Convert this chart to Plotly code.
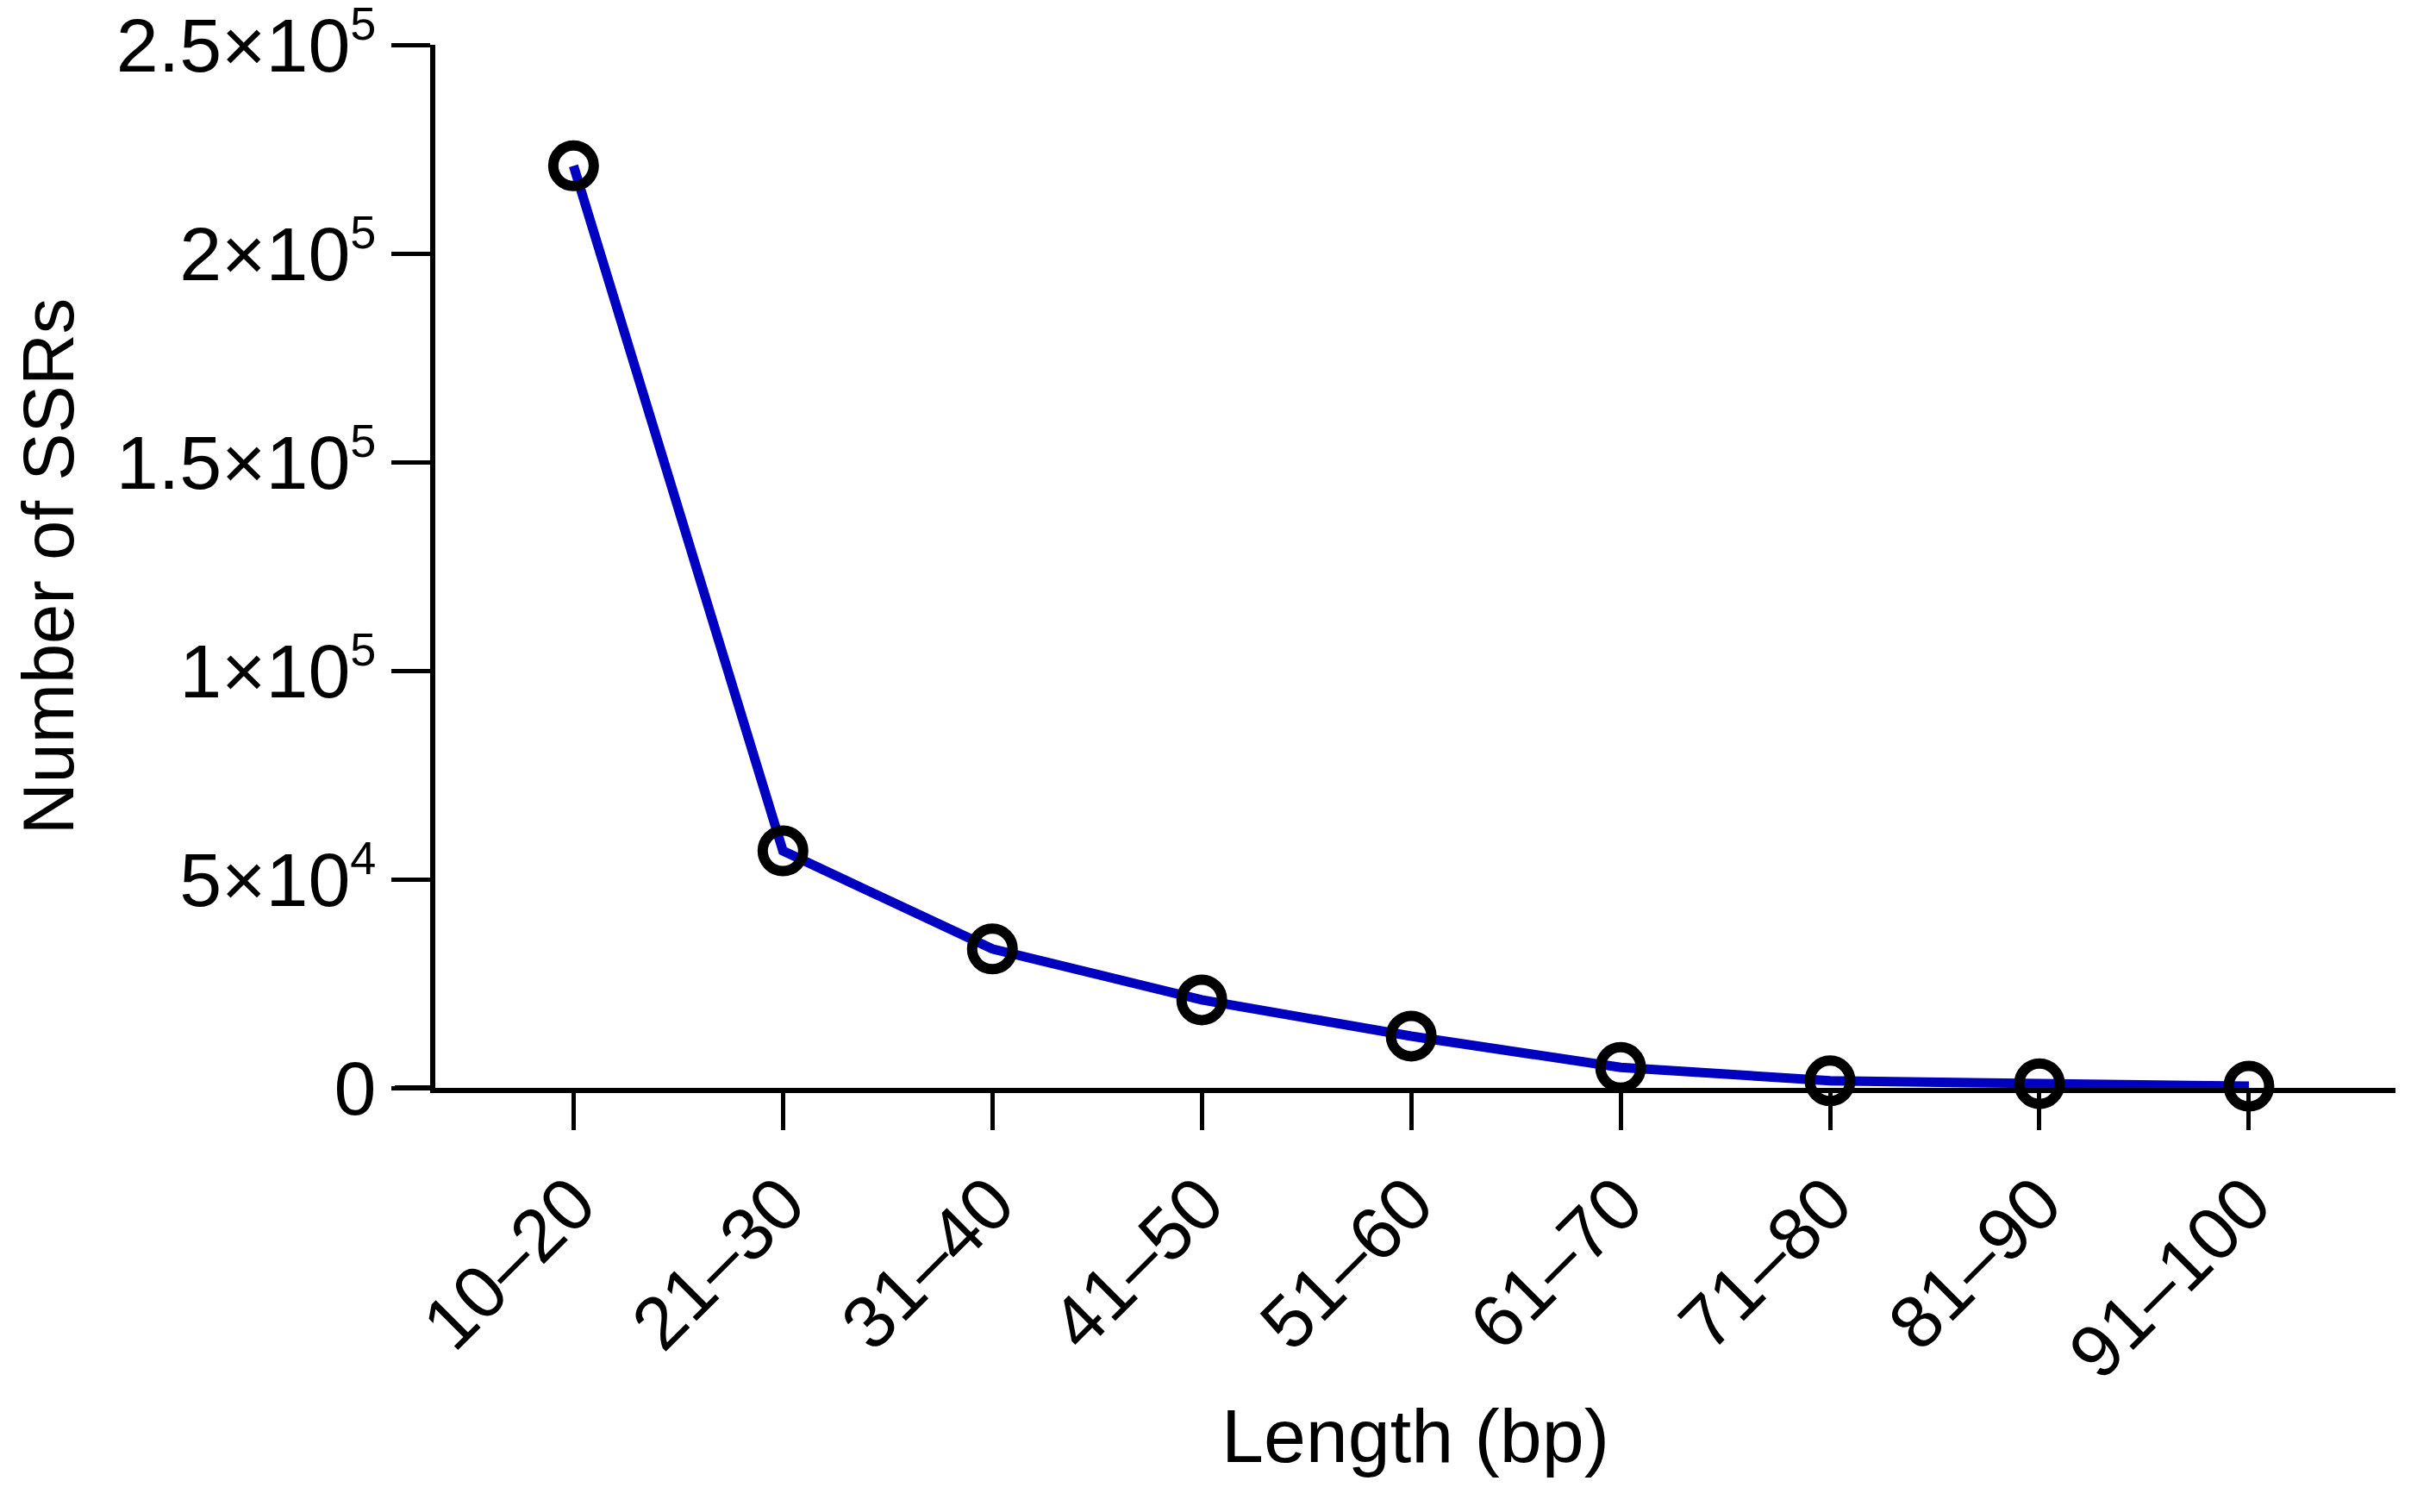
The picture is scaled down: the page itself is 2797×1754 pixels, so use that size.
import plotly.graph_objects as go

categories = ["10–20", "21–30", "31–40", "41–50", "51–60", "61–70", "71–80", "81–90", "91–100"]
ssr_counts = [221000, 56800, 33300, 21100, 12400, 4900, 1700, 1000, 400]
y_tick_values = [0, 50000, 100000, 150000, 200000, 250000]
y_tick_mantissas = ["0", "5", "1", "1.5", "2", "2.5"]
y_tick_exponents = [None, "4", "5", "5", "5", "5"]

SUP = "<sup><span style='font-size:54px'>{}</span></sup>"
y_tick_labels = [m if e is None else m + "×10" + SUP.format(e)
                 for m, e in zip(y_tick_mantissas, y_tick_exponents)]

# page body has an 8px default margin; size the figure so the plot lands where the reference has it
W, H = 2789, 1746
FONT = "Arial, Liberation Sans, sans-serif"
x_idx = list(range(len(categories)))

fig = go.Figure()
fig.add_trace(go.Scatter(
    x=x_idx, y=ssr_counts, mode="lines+markers",
    line=dict(color="#0000C0", width=11),
    marker=dict(symbol="circle-open", size=47, color="black",
                line=dict(width=12, color="black")),
    showlegend=False, cliponaxis=False,
))

# x-axis line extension to the left of the y-axis (Prism style)
fig.add_shape(type="line", xref="paper", yref="y", x0=-47 / 2274, x1=0, y0=0, y1=0,
              line=dict(color="black", width=6))

fig.update_layout(
    width=W, height=H,
    margin=dict(l=497, r=18, t=44, b=492, autoexpand=False),
    paper_bgcolor="white", plot_bgcolor="white",
    font=dict(family=FONT, size=88, color="black"),
    xaxis=dict(
        range=[-0.66, 8.7], tickmode="array", tickvals=x_idx, ticktext=categories,
        tickangle=-45, ticks="outside", ticklen=43, tickwidth=5, tickcolor="black",
        showline=True, linewidth=6, linecolor="black", showgrid=False, zeroline=False,
        tickfont=dict(size=86), automargin=False, ticklabeloverflow="allow",
        title=dict(text="Length (bp)", font=dict(size=88), standoff=20),
    ),
    yaxis=dict(
        range=[0, 250000], tickmode="array", tickvals=y_tick_values, ticktext=y_tick_labels,
        ticks="outside", ticklen=45, tickwidth=5, tickcolor="black",
        showline=True, linewidth=6, linecolor="black", showgrid=False, zeroline=False,
        tickfont=dict(size=88), automargin=False, ticklabeloverflow="allow",
        title=dict(text="Number of SSRs", font=dict(size=83), standoff=24),
    ),
)

fig.write_html("out.html")
